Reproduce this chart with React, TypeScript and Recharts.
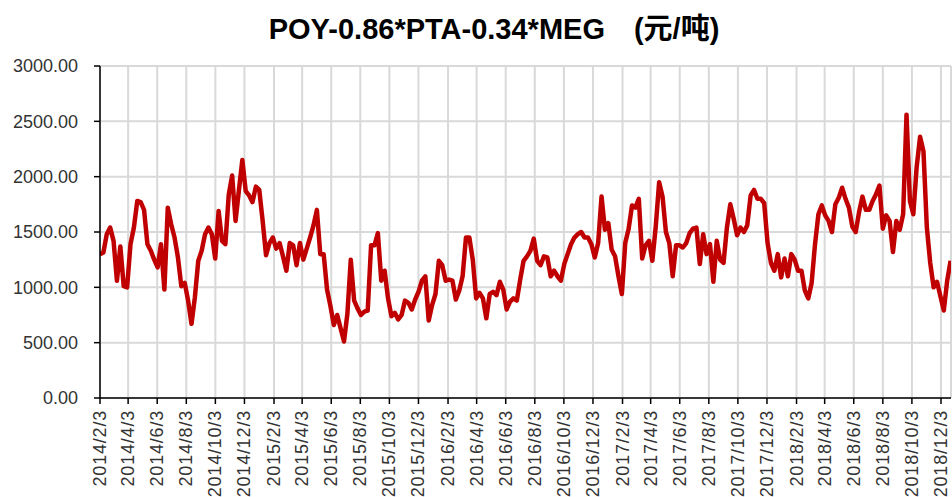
import { LineChart, Line, XAxis, YAxis, CartesianGrid } from "recharts";

// weekly-ish readings of POY-0.86*PTA-0.34*MEG spread (元/吨), starting 2014/2/3
const SAMPLE_DAYS = 7.108;

const part2014 = [
  1300, 1315, 1480, 1540, 1420, 1060, 1370, 1010, 1000, 1390, 1540, 1780, 1770, 1700,
  1390, 1330, 1250, 1180, 1390, 980, 1720, 1570, 1450, 1270, 1010, 1040, 880, 670,
  910, 1240, 1330, 1480, 1540, 1480, 1260, 1690, 1420, 1390, 1840, 2010, 1600, 1880,
];
const part2015a = [
  2150, 1870, 1830, 1770, 1910, 1880, 1600, 1290, 1400, 1450, 1350, 1400, 1280, 1150,
  1400, 1380, 1200, 1400, 1250, 1350, 1450, 1560, 1700, 1300, 1300, 980, 830, 660,
  750, 630, 510, 760, 1250, 880, 810, 750, 780, 790, 1380, 1380, 1490, 1060,
];
const part2015b = [
  1150, 900, 740, 770, 710, 750, 880, 860, 800, 890, 960, 1060, 1100, 700,
  840, 940, 1240, 1200, 1060, 1070, 1060, 890, 970, 1100, 1450, 1450, 1250, 900,
  950, 900, 720, 940, 960, 930, 1050, 980, 800, 870, 900, 880, 1070, 1240,
];
const part2016 = [
  1280, 1330, 1440, 1240, 1200, 1280, 1270, 1100, 1150, 1100, 1060, 1210, 1300, 1390,
  1450, 1480, 1500, 1450, 1450, 1390, 1270, 1400, 1820, 1520, 1580, 1340, 1280, 1100,
  940, 1400, 1530, 1740, 1720, 1800, 1260, 1380, 1420, 1240, 1550, 1950, 1820, 1500,
];
const part2017 = [
  1400, 1100, 1380, 1380, 1360, 1400, 1490, 1530, 1540, 1210, 1480, 1300, 1390, 1050,
  1420, 1250, 1220, 1540, 1750, 1620, 1470, 1540, 1500, 1560, 1830, 1880, 1800, 1800,
  1760, 1400, 1220, 1150, 1300, 1090, 1260, 1100, 1300, 1250, 1150, 1150, 970, 900,
];
const part2018 = [
  1040, 1390, 1660, 1740, 1650, 1600, 1500, 1750, 1810, 1900, 1800, 1720, 1550, 1500,
  1680, 1820, 1700, 1700, 1780, 1840, 1920, 1530, 1650, 1600, 1320, 1600, 1520, 1660,
  2560, 1780, 1660, 2090, 2360, 2230, 1540, 1220, 1000, 1050, 920, 790, 1060, 1240,
];

const values = [...part2014, ...part2015a, ...part2015b, ...part2016, ...part2017, ...part2018];

const tickLabels = [
  "2014/2/3", "2014/4/3", "2014/6/3", "2014/8/3", "2014/10/3", "2014/12/3",
  "2015/2/3", "2015/4/3", "2015/6/3", "2015/8/3", "2015/10/3", "2015/12/3",
  "2016/2/3", "2016/4/3", "2016/6/3", "2016/8/3", "2016/10/3", "2016/12/3",
  "2017/2/3", "2017/4/3", "2017/6/3", "2017/8/3", "2017/10/3", "2017/12/3",
  "2018/2/3", "2018/4/3", "2018/6/3", "2018/8/3", "2018/10/3", "2018/12/3",
];
const yTicks = [0, 500, 1000, 1500, 2000, 2500, 3000];

const START = Date.UTC(2014, 1, 3);
const dayOf = (s: string) => {
  const [y, m, d] = s.split("/").map(Number);
  return Math.round((Date.UTC(y, m - 1, d) - START) / 86400000);
};
const xTicks = tickLabels.map(dayOf);
const labelByDay: Record<number, string> = {};
tickLabels.forEach((l, i) => (labelByDay[xTicks[i]] = l));

const data = values.map((v, i) => ({ t: i * SAMPLE_DAYS, v }));

const FONT = "'Liberation Sans', Arial, sans-serif";

const XTick = (props: any) => {
  const { x, y, payload } = props;
  return (
    <text
      x={x}
      y={y}
      transform={`rotate(-90 ${x} ${y})`}
      textAnchor="end"
      dominantBaseline="central"
      fontSize={18}
      letterSpacing={0.8}
      fontFamily={FONT}
      fill="#333"
    >
      {labelByDay[payload.value]}
    </text>
  );
};

export default function App() {
  return (
    <div style={{ position: "absolute", left: 0, top: 0, width: 952, height: 497, background: "#fff" }}>
      <div
        style={{
          position: "absolute",
          top: 5,
          left: 0,
          width: 952,
          paddingLeft: 36,
          boxSizing: "border-box",
          textAlign: "center",
          fontFamily: "'Liberation Sans', 'Noto Sans CJK SC', sans-serif",
          fontWeight: "bold",
          fontSize: 29,
          color: "#000",
          whiteSpace: "nowrap",
        }}
      >
        POY-0.86*PTA-0.34*MEG　(元/吨)
      </div>
      <LineChart width={952} height={497} data={data} margin={{ top: 66, right: 1, bottom: 0, left: 0 }}>
        <CartesianGrid stroke="#d9d9d9" strokeWidth={2} />
        <XAxis
          dataKey="t"
          type="number"
          domain={[0, 1785]}
          ticks={xTicks}
          interval={0}
          height={99}
          tick={<XTick />}
          tickSize={6}
          tickMargin={6}
          axisLine={{ stroke: "#000", strokeWidth: 1.5 }}
          tickLine={{ stroke: "#000", strokeWidth: 1.5 }}
          allowDataOverflow
        />
        <YAxis
          type="number"
          domain={[0, 3000]}
          ticks={yTicks}
          interval={0}
          width={100}
          tickFormatter={(v: number) => v.toFixed(2)}
          tick={{ fontSize: 18, fill: "#333", fontFamily: FONT }}
          tickSize={6}
          tickMargin={16}
          axisLine={{ stroke: "#000", strokeWidth: 1.5 }}
          tickLine={{ stroke: "#000", strokeWidth: 1.5 }}
        />
        <Line
          type="linear"
          dataKey="v"
          stroke="#C00000"
          strokeWidth={4.5}
          dot={false}
          strokeLinejoin="round"
          isAnimationActive={false}
        />
      </LineChart>
    </div>
  );
}
